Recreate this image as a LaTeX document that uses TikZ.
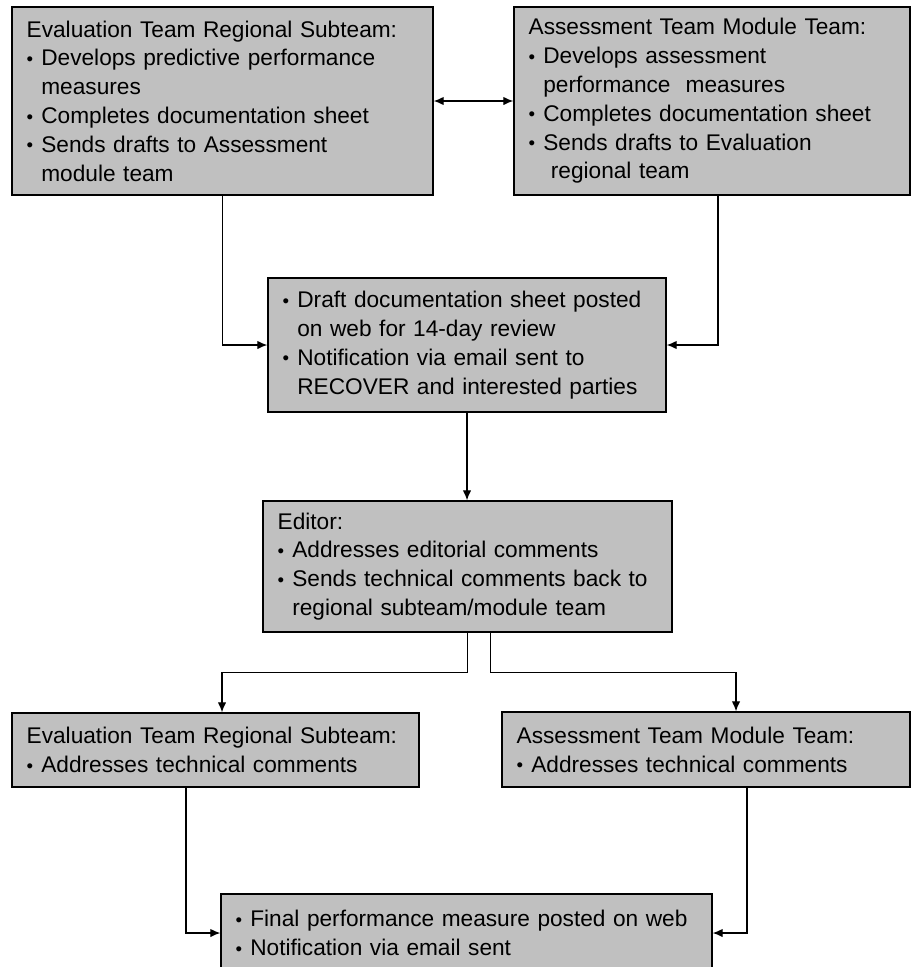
\documentclass[tikz,border=0pt]{standalone}
\usepackage{fontspec}
\setmainfont{Liberation Sans}
\usetikzlibrary{arrows.meta}
\usetikzlibrary{calc}
\tikzset{>={Latex[length=2.6mm, width=2.2mm]}}
\definecolor{boxgray}{HTML}{C0C0C0}
\tikzset{
    box/.style 2 args={
        draw=black, line width=1.1pt, fill=boxgray, align=left,
        inner xsep=11pt, text width=#1, minimum height=#2,
        font=\fontsize{17}{21.6}\selectfont
    },
    link/.style={line width=0.8pt},
}
\newcommand{\itembul}{\makebox[11pt][l]{\raisebox{0.3pt}{\fontsize{14}{14}\selectfont •}}}
\newcommand{\itemgap}{\hspace*{11pt}}

\begin{document}
\begin{tikzpicture}[x=0.75pt, y=-0.75pt] % review workflow
	\useasboundingbox (0,0) rectangle (911,967);
	\node[box={293.75pt}{141pt}] (evalTop) at (222.5,101) {Evaluation Team Regional Subteam:\\
		\itembul Develops predictive performance\\ \itemgap measures\\
		\itembul Completes documentation sheet\\
		\itembul Sends drafts to Assessment\\ \itemgap module team};
	\node[box={275pt}{141pt}] (assessTop) at (712,101) {Assessment Team Module Team:\\
		\itembul Develops assessment\\ \itemgap performance\ \ measures\\
		\itembul Completes documentation sheet\\
		\itembul Sends drafts to Evaluation\\ \itemgap\ regional team};
	\node[box={276.5pt}{100.5pt}] (draft) at (467,345) {\itembul Draft documentation sheet posted\\ \itemgap on web for 14-day review\\
		\itembul Notification via email sent to\\ \itemgap RECOVER and interested parties};
	\node[box={284.75pt}{98.25pt}] (editor) at (467.5,566.5) {Editor:\\
		\itembul Addresses editorial comments\\
		\itembul Sends technical comments back to\\ \itemgap regional subteam/module team};
	\node[box={283.25pt}{55.5pt}] (evalFix) at (215.5,750) {Evaluation Team Regional Subteam:\\
		\itembul Addresses technical comments};
	\node[box={284pt}{56.25pt}] (assessFix) at (706,749.5) {Assessment Team Module Team:\\
		\itembul Addresses technical comments};
	\node[box={346.25pt}{58.5pt}] (final) at (466.5,933) {\itembul Final performance measure posted on web\\
		\itembul Notification via email sent};
	\draw[<->, link] (evalTop.east) -- (assessTop.west);
	\draw[->, link] (evalTop.south) |- (draft.west);
	\draw[->, link] ($(assessTop.south)+(6,0)$) |- (draft.east);
	\draw[->, link] (draft.south) -- (draft.south |- editor.north);
	\draw[->, link] (editor.south) -- ++(0,40) -| ($(evalFix.north)+(6.5,0)$);
	\draw[->, link] ($(editor.south)+(23,0)$) -- ++(0,40) -| ($(assessFix.north)+(30,0)$);
	\draw[->, link] ($(evalFix.south)+(-29.5,0)$) |- (final.west);
	\draw[->, link] ($(assessFix.south)+(41,0)$) |- (final.east);
\end{tikzpicture}
\end{document}
